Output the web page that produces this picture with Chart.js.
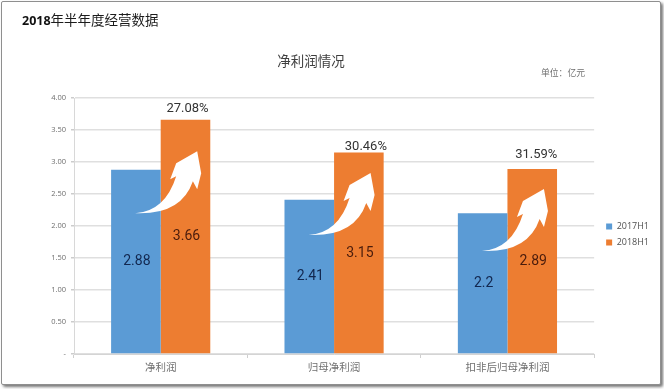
<!DOCTYPE html>
<html><head><meta charset="utf-8">
<script src="https://cdn.jsdelivr.net/npm/chart.js@4"></script>
<style>
html,body{margin:0;padding:0;background:#fff;width:664px;height:389px;overflow:hidden}
#frame{position:absolute;left:1px;top:1px;width:658px;height:382px;border:1px solid #8f8f8f;border-radius:2px;box-shadow:2px 2px 3px #777;background:#fff}
#wrap{position:absolute;left:0;top:0;width:664px;height:389px}
#head{position:absolute;left:22px;top:9px;font-family:"Noto Sans CJK SC";font-size:13.5px;line-height:20px;color:#1c1c1c;white-space:nowrap}
#head b{font-family:"Open Sans";font-size:12.5px;font-weight:700;color:#111}
#unit{position:absolute;left:541px;top:66px;font-family:"Noto Sans CJK SC";font-size:8.8px;line-height:14px;color:#707070;white-space:nowrap}
</style></head><body>
<div id="frame"></div>
<div id="wrap"><canvas id="c" width="664" height="389"></canvas></div>
<div id="head"><b>2018</b>年半年度经营数据</div>
<div id="unit">单位：亿元</div>
<script>
const categories = ["净利润", "归母净利润", "扣非后归母净利润"];
const series2017 = [2.88, 2.41, 2.2];
const series2018 = [3.66, 3.15, 2.89];
const growthLabels = ["27.08%", "30.46%", "31.59%"];
const growthLabelLevel = [3.83, 3.24, 3.12];
const growthLabelShift = [2, 7, 4];
const arrowTailLevel = [2.2, 1.86, 1.61];
const yTicks = [0, 0.5, 1, 1.5, 2, 2.5, 3, 3.5, 4];

const arrowShape = {
  draw(ctx, x, y) {
    ctx.save();
    ctx.translate(x, y);
    ctx.beginPath();
    ctx.moveTo(0, 0);
    ctx.quadraticCurveTo(30, -2, 41, -37);
    ctx.lineTo(35, -34);
    ctx.lineTo(41, -50);
    ctx.lineTo(62, -62);
    ctx.lineTo(66, -40);
    ctx.lineTo(62, -24);
    ctx.lineTo(57.7, -32);
    ctx.quadraticCurveTo(46, 2, 0, 0);
    ctx.closePath();
    ctx.fillStyle = "#ffffff";
    ctx.fill();
    ctx.restore();
  }
};

const annotations = {
  id: "annotations",
  afterLayout(chart) {
    const t = chart.titleBlock, l = chart.legend;
    t.right = 622; t.width = 622 - t.left;
    l.top += 40; l.bottom += 40;
    l.left += 5; l.right += 5;
  },
  afterDatasetsDraw(chart) {
    const ctx = chart.ctx, y = chart.scales.y;
    const a = chart.getDatasetMeta(0).data, b = chart.getDatasetMeta(1).data;
    ctx.save();
    categories.forEach((_, i) => {
      const boundary = (a[i].x + b[i].x) / 2;
      arrowShape.draw(ctx, boundary - 25.5, y.getPixelForValue(arrowTailLevel[i]));
    });
    ctx.textAlign = "center";
    ctx.textBaseline = "middle";
    categories.forEach((_, i) => {
      ctx.font = "14px Roboto";
      ctx.fillStyle = "#12274f";
      ctx.fillText(String(series2017[i]), a[i].x + 1, y.getPixelForValue(series2017[i] / 2));
      ctx.fillStyle = "#4a1c0c";
      ctx.fillText(String(series2018[i]), b[i].x + 1, y.getPixelForValue(series2018[i] / 2));
      ctx.font = "13px Roboto";
      ctx.fillStyle = "#333333";
      ctx.fillText(growthLabels[i], b[i].x + growthLabelShift[i], y.getPixelForValue(growthLabelLevel[i]));
    });
    ctx.restore();
  }
};

new Chart(document.getElementById("c"), {
  type: "bar",
  plugins: [annotations],
  data: {
    labels: categories,
    datasets: [
      { label: "2017H1", data: series2017, backgroundColor: "#5b9bd5", categoryPercentage: 0.572, barPercentage: 1 },
      { label: "2018H1", data: series2018, backgroundColor: "#ed7d31", categoryPercentage: 0.572, barPercentage: 1 }
    ]
  },
  options: {
    responsive: false,
    animation: false,
    layout: { padding: { left: 0, right: 10, top: 0, bottom: 0 } },
    plugins: {
      tooltip: { enabled: false },
      title: {
        display: true,
        text: "净利润情况",
        color: "#3f3f3f",
        font: { family: "Noto Sans CJK SC", size: 13.5, weight: "normal" },
        padding: { top: 53, bottom: 28.8 }
      },
      legend: {
        position: "right",
        labels: {
          boxWidth: 6, boxHeight: 6, padding: 7,
          color: "#505050",
          font: { family: "Open Sans", size: 9 }
        }
      }
    },
    scales: {
      x: {
        afterFit(s) { s.height = 35; },
        grid: { drawOnChartArea: false, offset: true, tickLength: 4, color: "#cfcfcf" },
        border: { color: "#d4d4d4", width: 1 },
        ticks: { color: "#707070", padding: 3, font: { family: "Noto Sans CJK SC", size: 10.5 } }
      },
      y: {
        min: 0, max: 4,
        afterFit(s) { s.width = 74; },
        afterBuildTicks(s) { s.ticks = yTicks.map(v => ({ value: v })); },
        grid: { color: "#dfdfdf", lineWidth: 1.5, tickLength: 3, tickColor: "#cccccc" },
        border: { color: "#d8d8d8" },
        ticks: {
          color: "#6e6e6e", padding: 5,
          font: { family: "Open Sans", size: 7.5 },
          callback(v) { return v === 0 ? "-" : v.toFixed(2); }
        }
      }
    }
  }
});
</script>
</body></html>
